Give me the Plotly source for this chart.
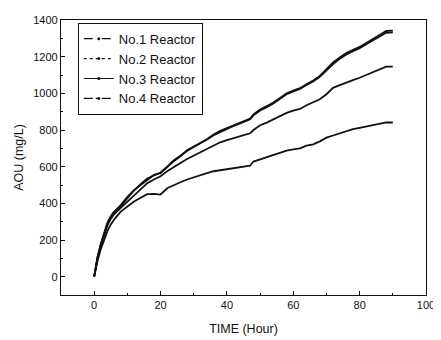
import plotly.graph_objects as go

time_h = [0, 0.5, 1, 2, 3, 4, 5, 6, 8, 10, 12, 14, 16, 18, 20, 22, 24, 26, 28, 30,
          32, 34, 36, 38, 40, 42, 44, 46, 47, 48, 50, 52, 54, 56, 58, 60, 62, 64, 66, 68,
          70, 72, 74, 76, 78, 80, 82, 84, 86, 88, 90]

no1 = [0, 45, 85, 150, 205, 250, 285, 311, 355, 385, 410, 430, 450, 452, 448, 482, 500, 515, 530, 543,
       555, 565, 575, 580, 586, 590, 596, 602, 605, 628, 640, 650, 662, 675, 688, 694, 700, 715, 722, 738,
       758, 770, 782, 795, 805, 812, 820, 828, 836, 841, 841]

no2 = [0, 52, 103, 175, 240, 290, 325, 352, 390, 435, 472, 500, 528, 555, 565, 598, 630, 657, 686, 707,
       727, 748, 772, 790, 806, 822, 836, 850, 858, 880, 906, 925, 945, 970, 995, 1010, 1024, 1045, 1065, 1090,
       1125, 1160, 1188, 1212, 1230, 1246, 1268, 1290, 1312, 1330, 1332]

no3 = [0, 50, 100, 170, 230, 280, 315, 340, 375, 410, 445, 475, 510, 530, 548, 575, 600, 620, 642, 660,
       678, 695, 715, 733, 745, 755, 765, 776, 782, 800, 826, 840, 858, 875, 893, 906, 915, 935, 950, 968,
       995, 1030, 1045, 1060, 1072, 1085, 1100, 1115, 1132, 1146, 1146]

no4 = [0, 55, 107, 180, 245, 295, 330, 355, 385, 430, 470, 505, 535, 552, 568, 600, 635, 660, 690, 710,
       730, 750, 775, 795, 810, 825, 840, 855, 862, 885, 912, 930, 950, 975, 1000, 1015, 1028, 1050, 1070, 1095,
       1130, 1168, 1195, 1220, 1238, 1253, 1275, 1295, 1318, 1340, 1342]

names = ["No.1 Reactor", "No.2 Reactor", "No.3 Reactor", "No.4 Reactor"]
series = [no1, no2, no3, no4]
dashes = ["dash", "dot", "solid", "dashdot"]

x_ticks = [0, 20, 40, 60, 80, 100]
y_ticks = [0, 200, 400, 600, 800, 1000, 1200, 1400]

FONT = "Liberation Sans, Arial, sans-serif"

fig = go.Figure()
for name, vals in zip(names, series):
    fig.add_trace(go.Scatter(x=time_h, y=vals, mode="lines", showlegend=False,
                             line=dict(color="#111111", width=1.8)))
for name, d in zip(names, dashes):
    fig.add_trace(go.Scatter(x=[None], y=[None], mode="lines+markers", name=name,
                             line=dict(color="#111111", width=1.2, dash=d),
                             marker=dict(size=3, color="#111111")))

axis_common = dict(showline=True, linecolor="#111111", linewidth=1.3, mirror=True,
                   ticks="inside", ticklen=4, tickwidth=1, tickcolor="#111111",
                   showgrid=False, zeroline=False,
                   tickfont=dict(family=FONT, size=11, color="#111111"))

fig.update_xaxes(range=[-10, 100], tickvals=x_ticks,
                 minor=dict(dtick=10, ticks="inside", ticklen=2, tickcolor="#111111", showgrid=False),
                 title=dict(text="TIME (Hour)", font=dict(family=FONT, size=12.5, color="#111111"), standoff=13),
                 **axis_common)
fig.update_yaxes(range=[-100, 1400], tickvals=y_ticks,
                 minor=dict(dtick=100, ticks="inside", ticklen=2, tickcolor="#111111", showgrid=False),
                 title=dict(text="AOU (mg/L)", font=dict(family=FONT, size=12.5, color="#111111"), standoff=6),
                 **axis_common)

fig.update_layout(
    width=433, height=332,
    margin=dict(l=53, r=10, t=6, b=45),
    paper_bgcolor="white", plot_bgcolor="white",
    legend=dict(x=0.046, y=0.99, xanchor="left", yanchor="top",
                bordercolor="#111111", borderwidth=1, bgcolor="white",
                font=dict(family=FONT, size=13, color="#111111")),
    font=dict(family=FONT, color="#111111"),
)

fig.write_html("out.html")
